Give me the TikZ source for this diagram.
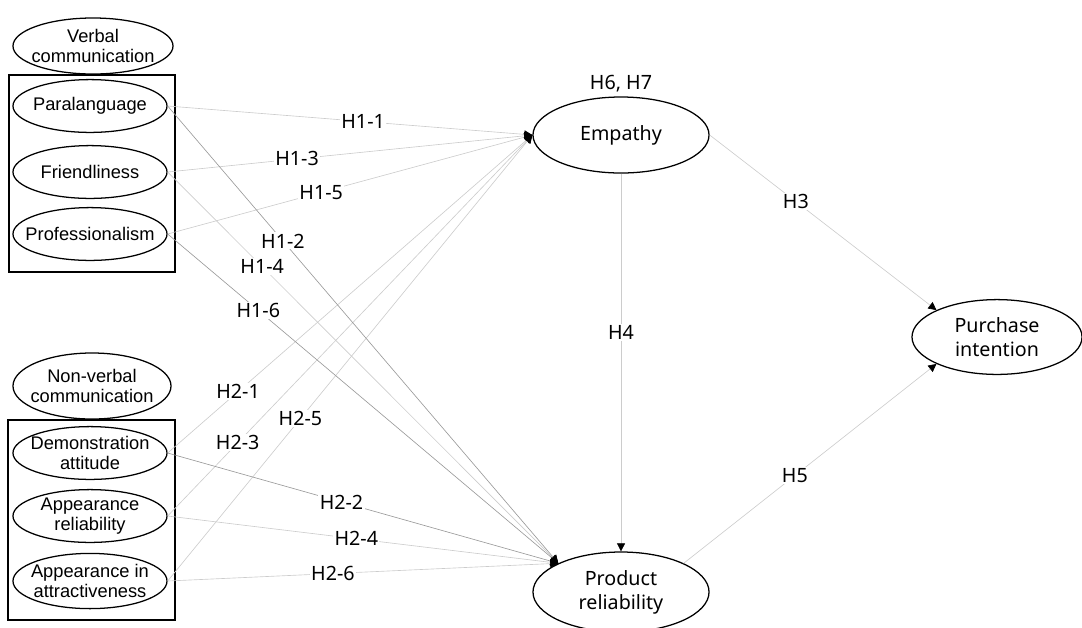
\documentclass[tikz,border=0pt]{standalone}
\usepackage{fontspec}
\setmainfont{Liberation Sans}
\newfontfamily\labfont{Noto Sans}
\usetikzlibrary{positioning, arrows.meta, shapes.geometric}

\begin{document}
\begin{tikzpicture}[x=0.025cm, y=-0.025cm,
    construct/.style={ellipse, draw, line width=0.9pt, inner ysep=0pt, inner xsep=-8pt, align=center, font=\fontsize{13}{14.4}\selectfont},
    item/.style={construct, minimum width=3.85cm, minimum height=1.32cm},
    outcome/.style={ellipse, draw, line width=0.9pt, inner sep=0pt, align=center, font=\labfont\fontsize{14}{17}\selectfont},
    group/.style={draw, line width=0.9pt},
    link/.style={draw=gray!40, line width=0.45pt, -{Triangle[length=2mm, width=2mm, color=black]}},
    hlab/.style={fill=white, inner sep=1pt, font=\labfont\fontsize{14}{16}\selectfont}]
    \useasboundingbox (0,0) rectangle (1082,627);

    % Verbal communication
    \node[construct, minimum width=4cm, minimum height=1.4cm] (verbal) at (93,46) {Verbal\\communication};
    \draw[group] (9,75) rectangle (175,272);
    \node[item] (para) at (90,106) {Paralanguage};
    \node[item] (friend) at (90,172) {Friendliness};
    \node[item] (prof) at (90,234) {Professionalism};

    % Non-verbal communication
    \node[construct, minimum width=3.95cm, minimum height=1.65cm] (nonverbal) at (92,386) {Non-verbal\\communication};
    \draw[group] (8,420) rectangle (175,620);
    \node[item] (demo) at (90,453) {Demonstration\\attitude};
    \node[item] (apprel) at (90,516) {Appearance\\reliability};
    \node[item, minimum height=1.38cm] (appatt) at (90,581) {Appearance in\\attractiveness};

    % Mediators and outcome
    \node[outcome, minimum width=4.4cm, minimum height=1.9cm] (emp) at (621,135) {Empathy};
    \node[hlab, above=2pt of emp] (h67) {H6, H7};
    \node[outcome, minimum width=4.4cm, minimum height=2cm] (prod) at (621,592) {Product\\reliability};
    \node[outcome, minimum width=4.25cm, minimum height=1.87cm] (purch) at (997,337) {Purchase\\intention};

    % Paths into Empathy
    \foreach \src/\p/\lbl in {para/0.536/H1-1, friend/0.355/H1-3, prof/0.421/H1-5,
                             demo/0.193/H2-1, apprel/0.192/H2-3, appatt/0.364/H2-5}
        \draw[link] (\src.east) -- node[hlab, pos=\p] {\lbl} (emp.west);

    % Paths into Product reliability
    \foreach \src/\p/\lbl/\c in {para/0.295/H1-2/gray!80, friend/0.242/H1-4/gray!40, prof/0.232/H1-6/gray!80,
                                demo/0.445/H2-2/gray!80, apprel/0.483/H2-4/gray!40, appatt/0.423/H2-6/gray!40}
        \draw[link, draw=\c] (\src.east) -- node[hlab, pos=\p] {\lbl} (prod.north west);

    \draw[link] (emp.south) -- node[hlab, pos=0.42] {H4} (prod.north);
    \draw[link] (emp.east) -- node[hlab, pos=0.38] {H3} (purch.north west);
    \draw[link] (prod.north east) -- node[hlab, pos=0.44] {H5} (purch.south west);
\end{tikzpicture}
\end{document}
